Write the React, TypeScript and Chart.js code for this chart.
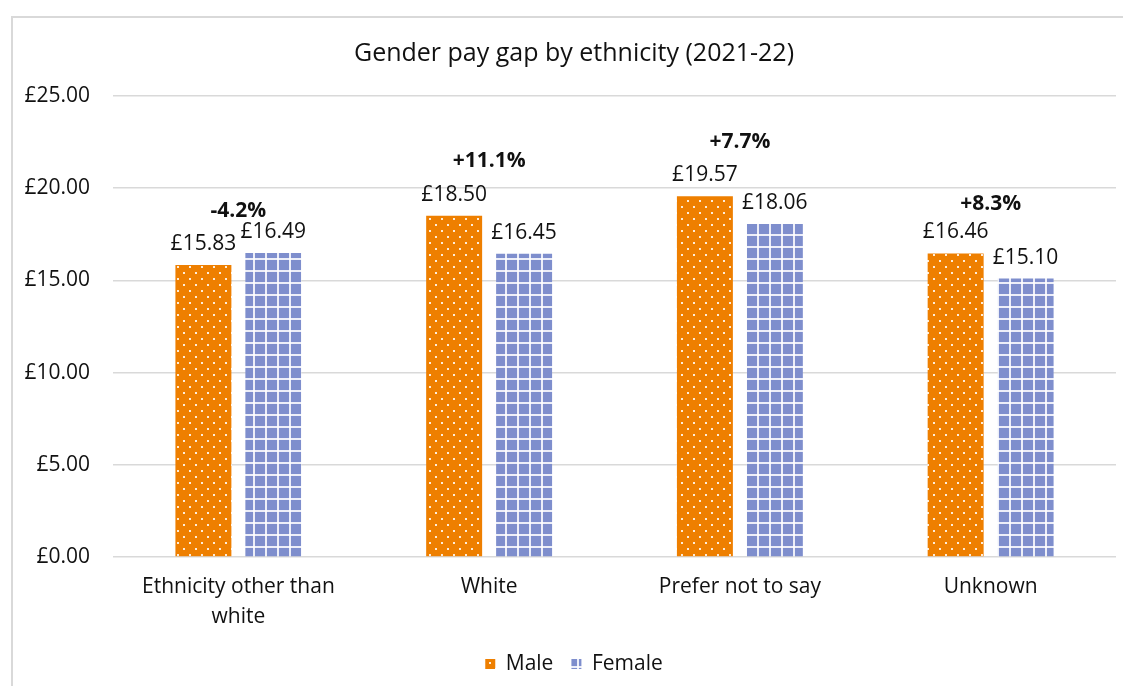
import React, { useEffect, useRef } from "react";
import { Chart, registerables } from "chart.js";

Chart.register(...registerables);

const categories: (string | string[])[] = [
  ["Ethnicity other than", "white"],
  "White",
  "Prefer not to say",
  "Unknown",
];
const maleValues = [15.83, 18.5, 19.57, 16.46];
const femaleValues = [16.49, 16.45, 18.06, 15.1];
const gapLabels = ["-4.2%", "+11.1%", "+7.7%", "+8.3%"];
const yTicks = [0, 5, 10, 15, 20, 25];

const FONT = '"Open Sans", "Noto Sans", sans-serif';
const TEXT = "#111111";
const GRID = "#D9D9D9";
const ORANGE = "#EE7F00";
const BLUE = "#7E8ECD";

function makeDotPattern(): CanvasPattern | string {
  const c = document.createElement("canvas");
  c.width = 12;
  c.height = 12;
  const g = c.getContext("2d");
  if (!g) return ORANGE;
  g.fillStyle = ORANGE;
  g.fillRect(0, 0, 12, 12);
  g.fillStyle = "rgba(255,255,255,0.85)";
  g.fillRect(2, 2, 2, 2);
  g.fillRect(8, 8, 2, 2);
  return g.createPattern(c, "repeat") || ORANGE;
}

function makeGridPattern(): CanvasPattern | string {
  const c = document.createElement("canvas");
  c.width = 12;
  c.height = 12;
  const g = c.getContext("2d");
  if (!g) return BLUE;
  g.fillStyle = BLUE;
  g.fillRect(0, 0, 12, 12);
  g.fillStyle = "rgba(255,255,255,0.85)";
  g.fillRect(0, 0, 2, 12);
  g.fillRect(0, 0, 12, 2);
  return g.createPattern(c, "repeat") || BLUE;
}

const gapLift = [36, 49, 48, 43];

const labelPlugin = {
  id: "valueLabels",
  afterDatasetsDraw(chart: any) {
    const ctx = chart.ctx as CanvasRenderingContext2D;
    ctx.save();
    ctx.fillStyle = TEXT;
    ctx.textAlign = "center";
    ctx.textBaseline = "alphabetic";
    ctx.font = `21px ${FONT}`;
    chart.data.datasets.forEach((ds: any, i: number) => {
      const meta = chart.getDatasetMeta(i);
      meta.data.forEach((bar: any, j: number) => {
        ctx.fillText("£" + Number(ds.data[j]).toFixed(2), bar.x, bar.y - 15);
      });
    });
    ctx.font = `bold 21px ${FONT}`;
    const xs = chart.scales.x;
    const ys = chart.scales.y;
    gapLabels.forEach((t, j) => {
      const top = ys.getPixelForValue(Math.max(maleValues[j], femaleValues[j]));
      ctx.fillText(t, xs.getPixelForValue(j), top - gapLift[j]);
    });
    ctx.restore();
  },
};

export default function App() {
  const ref = useRef<HTMLCanvasElement | null>(null);

  useEffect(() => {
    if (!ref.current) return;
    const male = makeDotPattern();
    const female = makeGridPattern();
    const chart = new Chart(ref.current, {
      type: "bar",
      data: {
        labels: categories,
        datasets: [
          {
            label: "Male",
            data: maleValues,
            backgroundColor: male as any,
            borderWidth: 0,
            categoryPercentage: 0.558,
            barPercentage: 0.8,
          },
          {
            label: "Female",
            data: femaleValues,
            backgroundColor: female as any,
            borderWidth: 0,
            categoryPercentage: 0.558,
            barPercentage: 0.8,
          },
        ],
      },
      options: {
        responsive: false,
        animation: false,
        layout: { padding: { left: 0, right: 0, top: 0, bottom: 29.5 } },
        plugins: {
          title: {
            display: true,
            text: "Gender pay gap by ethnicity (2021-22)",
            color: TEXT,
            font: { family: FONT, size: 25, weight: "normal" },
            padding: { top: 21, bottom: 27 },
          },
          legend: {
            position: "bottom",
            labels: {
              color: TEXT,
              font: { family: FONT, size: 21 },
              boxWidth: 10,
              boxHeight: 10,
              padding: 18,
            },
          },
          tooltip: { enabled: false },
        },
        scales: {
          x: {
            grid: { display: false, drawTicks: false },
            border: { display: false },
            ticks: {
              color: TEXT,
              font: { family: FONT, size: 21, lineHeight: 1.43 },
              padding: 15,
              maxRotation: 0,
              autoSkip: false,
            },
            afterFit: (s: any) => {
              s.height = 78.5;
            },
          },
          y: {
            min: 0,
            max: 25,
            afterBuildTicks: (s: any) => {
              s.ticks = yTicks.map((v) => ({ value: v }));
            },
            grid: { color: GRID, lineWidth: 1.5, drawTicks: false },
            border: { display: false },
            ticks: {
              color: TEXT,
              font: { family: FONT, size: 21 },
              padding: 23,
              callback: (v: any) => "£" + Number(v).toFixed(2),
            },
            afterFit: (s: any) => {
              s.width = 100;
            },
          },
          yRight: {
            position: "right",
            min: 0,
            max: 25,
            grid: { display: false, drawTicks: false },
            border: { display: false },
            ticks: { display: false },
            afterFit: (s: any) => {
              s.width = 19;
            },
          },
        },
      },
      plugins: [labelPlugin],
    });
    return () => chart.destroy();
  }, []);

  return (
    <div
      style={{
        position: "fixed",
        left: 0,
        top: 0,
        width: 1123,
        height: 686,
        overflow: "hidden",
        background: "#fff",
      }}
    >
      <div
        style={{
          position: "absolute",
          left: 11,
          top: 16,
          width: 1126,
          height: 700,
          border: `2px solid ${GRID}`,
          boxSizing: "border-box",
        }}
      >
        <canvas ref={ref} width={1122} height={696} style={{ display: "block", width: 1122, height: 696 }} />
      </div>
    </div>
  );
}
